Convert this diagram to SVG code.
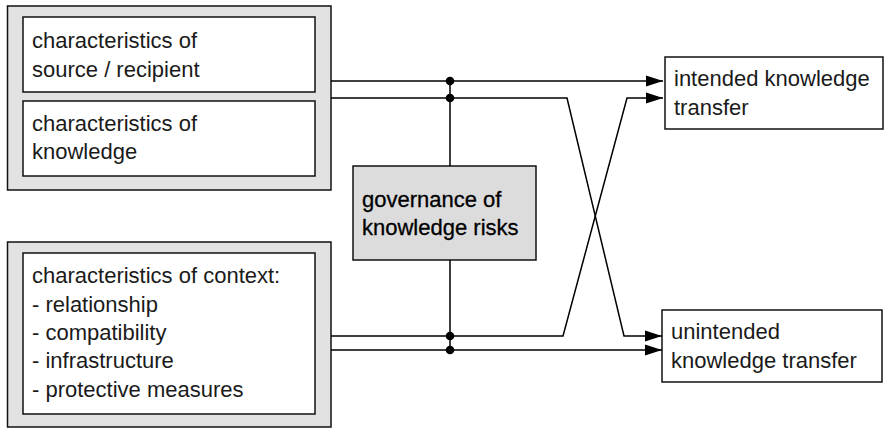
<svg xmlns="http://www.w3.org/2000/svg" width="884" height="431" viewBox="0 0 884 431">
<defs>
<style>
.outer{fill:#e2e2e2;stroke:#111;stroke-width:1.5}
.inner{fill:#fff;stroke:#111;stroke-width:1.5}
.gov{fill:#dcdcdc;stroke:#111;stroke-width:1.5}
.t{font-family:"Liberation Sans",Arial,sans-serif;font-size:22px;fill:#1a1a1a}
.tb{font-family:"Liberation Sans",Arial,sans-serif;font-size:22px;fill:#000;stroke:#000;stroke-width:0.3}
.ln{fill:none;stroke:#000;stroke-width:1.5}
.dot{fill:#000}
</style>
<marker id="arr" markerWidth="18" markerHeight="12" refX="17" refY="6" orient="auto" markerUnits="userSpaceOnUse">
<path d="M0,0.5 L17,6 L0,11.5 Z" fill="#000"/>
</marker>
</defs>
<rect width="884" height="431" fill="#fff"/>
<g id="group-top">
<rect class="outer" x="7.5" y="6" width="323.5" height="184"/>
</g>
<g id="source-recipient">
<rect class="inner" x="23" y="17" width="292" height="75"/>
<text class="t" x="32" y="48">characteristics of</text>
<text class="t" x="32" y="77">source / recipient</text>
</g>
<g id="knowledge">
<rect class="inner" x="23" y="101" width="292" height="75"/>
<text class="t" x="32" y="131">characteristics of</text>
<text class="t" x="32" y="159">knowledge</text>
</g>
<g id="group-bottom">
<rect class="outer" x="7.5" y="242" width="323.5" height="185"/>
</g>
<g id="context">
<rect class="inner" x="23" y="253" width="292" height="161"/>
<text class="t" x="32" y="283">characteristics of context:</text>
<text class="t" x="32" y="312">- relationship</text>
<text class="t" x="32" y="340">- compatibility</text>
<text class="t" x="32" y="368">- infrastructure</text>
<text class="t" x="32" y="397">- protective measures</text>
</g>
<g id="governance">
<rect class="gov" x="353" y="166" width="183" height="94"/>
<text class="tb" x="362" y="207">governance of</text>
<text class="tb" x="362" y="235">knowledge risks</text>
</g>
<g id="intended">
<rect class="inner" x="665" y="57" width="218" height="72"/>
<text class="t" x="674" y="86">intended knowledge</text>
<text class="t" x="674" y="115">transfer</text>
</g>
<g id="unintended">
<rect class="inner" x="662" y="310" width="220" height="72"/>
<text class="t" x="671" y="339">unintended</text>
<text class="t" x="671" y="368">knowledge transfer</text>
</g>
<g id="connectors">
<path class="ln" d="M331,81 H663" marker-end="url(#arr)"/>
<path class="ln" d="M331,98 H567 L624,336 H662" marker-end="url(#arr)"/>
<path class="ln" d="M331,336 H563 L627,98 H663" marker-end="url(#arr)"/>
<path class="ln" d="M331,350 H662" marker-end="url(#arr)"/>
<path class="ln" d="M450,81 V166 M450,260 V350"/>
<circle class="dot" cx="450" cy="81" r="4.3"/>
<circle class="dot" cx="450" cy="98" r="4.3"/>
<circle class="dot" cx="450" cy="336" r="4.3"/>
<circle class="dot" cx="450" cy="350" r="4.3"/>
</g>
</svg>
